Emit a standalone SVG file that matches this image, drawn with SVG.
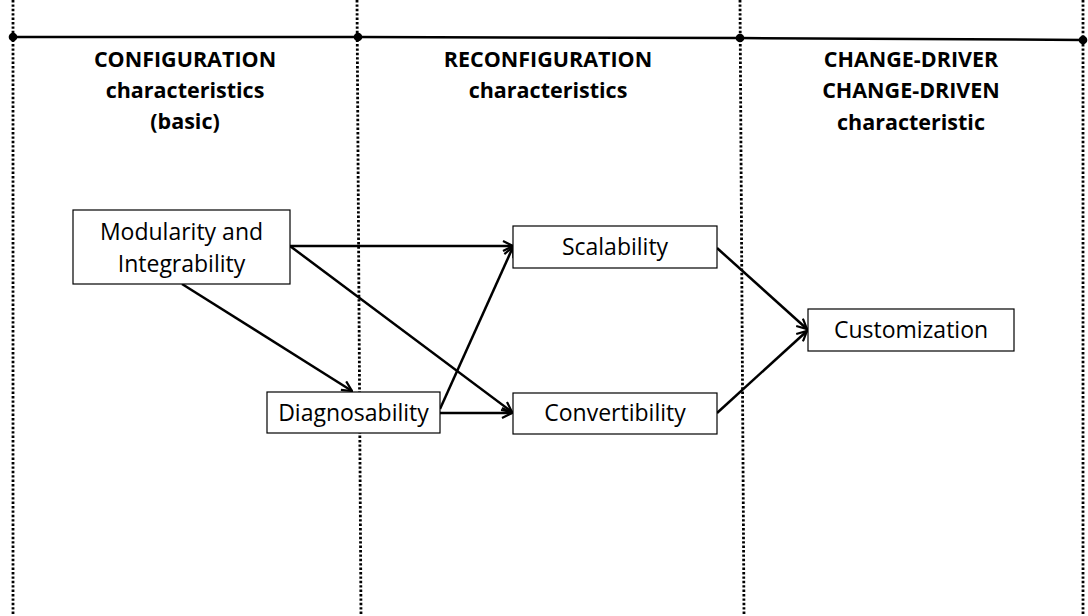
<svg xmlns="http://www.w3.org/2000/svg" width="1088" height="616" viewBox="0 0 1088 616">
<defs>
<style>
.sep{stroke:#000;stroke-width:2.8;stroke-dasharray:2.4 2;fill:none}
.top{stroke:#000;stroke-width:2.5;fill:none}
.dot{fill:#000}
.box{fill:#fff;stroke:#000;stroke-width:1.2}
.hd{font-family:"Open Sans","Liberation Sans",sans-serif;font-weight:bold;font-size:21.5px;text-anchor:middle;fill:#000}
.lb{font-family:"Open Sans","Liberation Sans",sans-serif;font-size:23px;text-anchor:middle;fill:#000}
.ar{stroke:#000;stroke-width:2.5;fill:none;marker-end:url(#ah)}
</style>
<marker id="ah" viewBox="0 0 12 12" refX="11" refY="6" markerWidth="12" markerHeight="12" markerUnits="userSpaceOnUse" orient="auto">
<path d="M1,1 L11,6 L1,11" fill="none" stroke="#000" stroke-width="2.2"/>
</marker>
</defs>
<rect width="1088" height="616" fill="#fff"/>
<g id="frame">
<line class="sep" x1="13" y1="0" x2="13" y2="616"/>
<line class="sep" x1="357" y1="0" x2="361" y2="616"/>
<line class="sep" x1="740" y1="0" x2="744" y2="616"/>
<line class="sep" x1="1083" y1="0" x2="1083" y2="616"/>
<polyline class="top" points="13,37 358,37 740,38 1084,40"/>
<circle class="dot" cx="13" cy="37" r="4.3"/>
<circle class="dot" cx="358" cy="37" r="4.3"/>
<circle class="dot" cx="740" cy="38" r="4.3"/>
<circle class="dot" cx="1083" cy="40" r="4.3"/>
</g>
<g id="headers">
<text class="hd" x="185" y="67">CONFIGURATION</text>
<text class="hd" x="185" y="98">characteristics</text>
<text class="hd" x="185" y="129">(basic)</text>
<text class="hd" x="548" y="67">RECONFIGURATION</text>
<text class="hd" x="548" y="98">characteristics</text>
<text class="hd" x="911" y="67">CHANGE-DRIVER</text>
<text class="hd" x="911" y="98">CHANGE-DRIVEN</text>
<text class="hd" x="911" y="130">characteristic</text>
</g>
<g id="connectors">
<line class="ar" x1="290" y1="246" x2="513" y2="246"/>
<line class="ar" x1="290" y1="246" x2="512" y2="412"/>
<line class="ar" x1="182" y1="284" x2="352" y2="391"/>
<line class="ar" x1="440" y1="409" x2="513" y2="247"/>
<line class="ar" x1="440" y1="413" x2="512" y2="413"/>
<line class="ar" x1="717" y1="248" x2="807" y2="329"/>
<line class="ar" x1="717" y1="413" x2="807" y2="331"/>
</g>
<g id="n-modularity">
<rect class="box" x="73" y="210" width="217" height="74"/>
<text class="lb" x="181.5" y="240">Modularity and</text>
<text class="lb" x="181.5" y="272">Integrability</text>
</g>
<g id="n-diagnosability">
<rect class="box" x="267" y="392" width="173" height="41"/>
<text class="lb" x="353.5" y="421">Diagnosability</text>
</g>
<g id="n-scalability">
<rect class="box" x="513" y="226" width="204" height="42"/>
<text class="lb" x="615" y="255">Scalability</text>
</g>
<g id="n-convertibility">
<rect class="box" x="513" y="393" width="204" height="41"/>
<text class="lb" x="615" y="421">Convertibility</text>
</g>
<g id="n-customization">
<rect class="box" x="808" y="309" width="206" height="42"/>
<text class="lb" x="911" y="338">Customization</text>
</g>
</svg>
